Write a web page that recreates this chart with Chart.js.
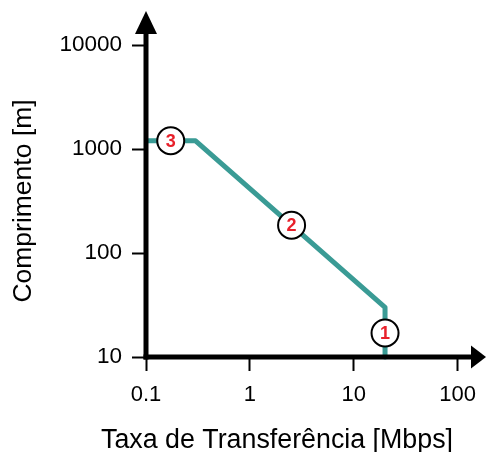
<!DOCTYPE html>
<html>
<head>
<meta charset="utf-8">
<script src="https://cdn.jsdelivr.net/npm/chart.js@4.4.1/dist/chart.umd.min.js"></script>
<style>
  html, body { margin: 0; padding: 0; background: #fff; }
  canvas { display: block; }
</style>
</head>
<body>
<canvas id="grafica" width="487" height="452"></canvas>
<script>
// Curva: taxa (Mbps) x comprimento (m)
const taxa = [0.1, 0.3, 20, 20];
const comprimento = [1200, 1200, 30, 10];

// Marcadores numerados sobre a curva
const marcadorTaxa = [0.173, 2.52, 20];
const marcadorComprimento = [1200, 185, 17];
const marcadorRotulos = ["3", "2", "1"];

// Marcas dos eixos
const ticksX = [0.1, 1, 10, 100];
const ticksY = [10, 100, 1000, 10000];

const tituloX = "Taxa de Transferência [Mbps]";
const tituloY = "Comprimento [m]";

const corCurva = "#3a9b95";
const corRotulo = "#e8202a";
const fonte = "'Liberation Sans', Arial, sans-serif";

Chart.defaults.font.family = fonte;
Chart.defaults.color = "#000";

// Eixos com setas, titulo do eixo X e numeros dentro dos circulos
const eixosComSetas = {
  id: "eixosComSetas",
  afterDatasetsDraw(chart) {
    const { ctx, chartArea } = chart;
    const x0 = chartArea.left;
    const y0 = chartArea.bottom;
    ctx.save();
    ctx.fillStyle = "#000";
    ctx.strokeStyle = "#000";
    ctx.lineWidth = 5;
    ctx.lineCap = "butt";

    // eixo Y
    ctx.beginPath();
    ctx.moveTo(x0, y0 + 2.5);
    ctx.lineTo(x0, 30);
    ctx.stroke();
    ctx.beginPath();
    ctx.moveTo(x0, 11);
    ctx.lineTo(x0 - 11, 34);
    ctx.lineTo(x0 + 11, 34);
    ctx.closePath();
    ctx.fill();

    // eixo X
    ctx.beginPath();
    ctx.moveTo(x0 - 2.5, y0);
    ctx.lineTo(475, y0);
    ctx.stroke();
    ctx.beginPath();
    ctx.moveTo(486, y0);
    ctx.lineTo(471, y0 - 11.5);
    ctx.lineTo(471, y0 + 11.5);
    ctx.closePath();
    ctx.fill();

    // titulo do eixo X (deslocado a esquerda como no original)
    ctx.font = "26.8px " + fonte;
    ctx.textAlign = "center";
    ctx.textBaseline = "alphabetic";
    ctx.fillText(tituloX, 277, 448);

    // rotulos dos marcadores
    const meta = chart.getDatasetMeta(0);
    ctx.font = "bold 18px " + fonte;
    ctx.fillStyle = corRotulo;
    ctx.textBaseline = "middle";
    meta.data.forEach((ponto, i) => {
      ctx.fillText(marcadorRotulos[i], ponto.x, ponto.y + 1);
    });
    ctx.restore();
  },
};

const ctx = document.getElementById("grafica").getContext("2d");
new Chart(ctx, {
  type: "line",
  data: {
    datasets: [
      {
        label: "Marcadores",
        data: marcadorTaxa.map((v, i) => ({ x: v, y: marcadorComprimento[i] })),
        showLine: false,
        pointRadius: 13.5,
        pointBorderWidth: 2,
        pointBackgroundColor: "#fff",
        pointBorderColor: "#000",
        order: 0,
        clip: false,
      },
      {
        label: "Comprimento",
        data: taxa.map((v, i) => ({ x: v, y: comprimento[i] })),
        borderColor: corCurva,
        borderWidth: 5,
        borderJoinStyle: "round",
        pointRadius: 0,
        tension: 0,
        order: 1,
        clip: false,
      },
    ],
  },
  options: {
    responsive: false,
    animation: false,
    layout: { padding: { left: 0, right: 27, top: 45, bottom: 0 } },
    plugins: {
      legend: { display: false },
      tooltip: { enabled: false },
    },
    scales: {
      x: {
        type: "logarithmic",
        min: 0.1,
        max: 100,
        afterBuildTicks: (eixo) => {
          eixo.ticks = ticksX.map((v) => ({ value: v }));
        },
        afterFit: (eixo) => {
          eixo.height = 95;
        },
        ticks: {
          font: { size: 22 },
          color: "#000",
          padding: 11,
          maxRotation: 0,
          autoSkip: false,
          callback: (v) => String(v),
        },
        grid: {
          drawOnChartArea: false,
          drawTicks: true,
          tickLength: 14,
          tickWidth: 2,
          tickColor: "#000",
        },
        border: { display: false },
      },
      y: {
        type: "logarithmic",
        min: 10,
        max: 10000,
        afterBuildTicks: (eixo) => {
          eixo.ticks = ticksY.map((v) => ({ value: v }));
        },
        afterFit: (eixo) => {
          eixo.width = 146;
        },
        ticks: {
          font: { size: 22.5 },
          color: "#000",
          padding: 10,
          autoSkip: false,
          callback: (v) => String(v),
        },
        grid: {
          drawOnChartArea: false,
          drawTicks: true,
          tickLength: 14,
          tickWidth: 2,
          tickColor: "#000",
        },
        border: { display: false },
        title: {
          display: true,
          text: tituloY,
          color: "#000",
          font: { size: 26.5, lineHeight: 1 },
          padding: { top: 10.5, bottom: 0 },
        },
      },
    },
  },
  plugins: [eixosComSetas],
});
</script>
</body>
</html>
